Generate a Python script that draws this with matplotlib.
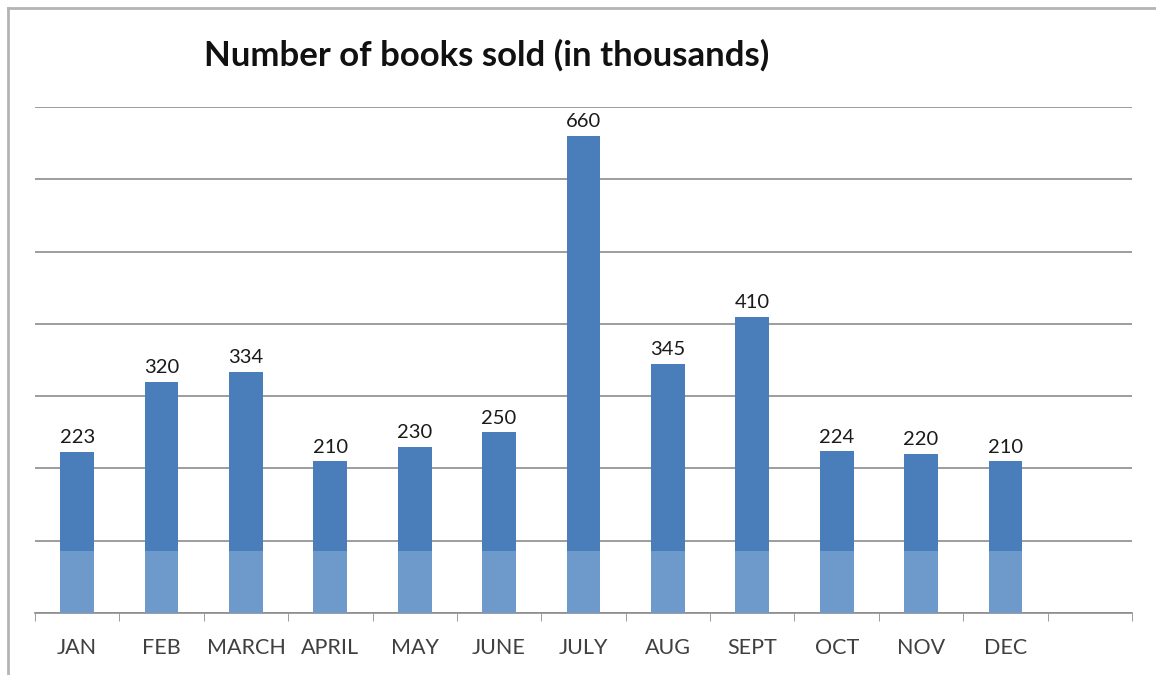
import matplotlib.pyplot as plt
from matplotlib.lines import Line2D
import numpy as np

plt.rcParams['font.family'] = ['Lato', 'DejaVu Sans']

months = ["JAN", "FEB", "MARCH", "APRIL", "MAY", "JUNE", "JULY",
          "AUG", "SEPT", "OCT", "NOV", "DEC"]
books_sold = [223, 320, 334, 210, 230, 250, 660, 345, 410, 224, 220, 210]
title = "Number of books sold (in thousands)"

dark_blue = "#4a7ebb"
light_blue = "#6d9acb"
grid_gray = "#8c8c8c"
fade_level = 86  # lighter band at the bottom of each bar

fig = plt.figure(figsize=(11.56, 6.75), dpi=100)
ax = fig.add_axes([35/1156, 62/675, (1132-35)/1156, (613-107)/675])

x = np.arange(len(months))
vals = np.array(books_sold)
ax.bar(x, vals, width=0.4, color=dark_blue, zorder=3)
ax.bar(x, np.minimum(vals, fade_level), width=0.4, color=light_blue, zorder=3)

for xi, v in zip(x, vals):
    ax.annotate(str(v), (xi, v), xytext=(0, 4), textcoords="offset points",
                ha="center", va="bottom", fontsize=14.5, color="#1a1a1a")

ax.set_xlim(-0.5, 12.5)
ax.set_ylim(0, 700)
ax.set_yticks(np.arange(0, 701, 100))
ax.yaxis.grid(True, color=grid_gray, linewidth=1.2, zorder=0)
ax.tick_params(axis="y", left=False, labelleft=False)

ax.set_xticks(x)
ax.set_xticklabels(months, fontsize=15.5, color="#404040")
ax.set_xticks(np.arange(-0.5, 13, 1), minor=True)
ax.tick_params(axis="x", which="major", length=0, pad=18)
ax.tick_params(axis="x", which="minor", length=6, color=grid_gray, direction="out")

for s in ["top", "right", "left"]:
    ax.spines[s].set_visible(False)
ax.spines["bottom"].set_color(grid_gray)
ax.spines["bottom"].set_linewidth(1.2)

fig.text(487/1156, 1 - 55/675, title, ha="center", va="center",
         fontsize=25, fontweight="bold", color="#111111")

# chart frame
fig.add_artist(Line2D([8/1156, 1], [1 - 8/675, 1 - 8/675], color="#b4b4b4", lw=2))
fig.add_artist(Line2D([8/1156, 8/1156], [0, 1 - 8/675], color="#b4b4b4", lw=2))

fig.savefig("out.png", dpi=100)
